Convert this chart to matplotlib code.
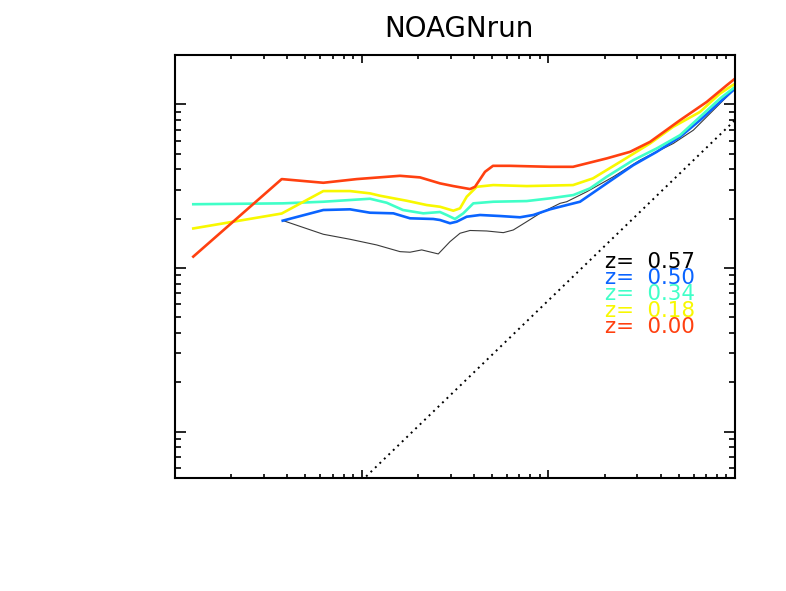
import matplotlib
matplotlib.use("Agg")
import matplotlib.pyplot as plt
from matplotlib.ticker import LogLocator, NullFormatter

# ---- data (log-log axes, arbitrary units) ----
labels = ["z=  0.57", "z=  0.50", "z=  0.34", "z=  0.18", "z=  0.00"]
colors = ["#000000", "#0A64FF", "#40FFC8", "#F8F800", "#FF4010"]

x_057 = [3.804, 6.231, 8.66, 12.04, 16.05, 18.16, 20.97, 25.73, 29.73, 33.64, 38.05,
         46.76, 57.41, 64.91, 76.58, 90.22, 115.5, 125.4, 160.5, 222.8, 309.7, 467.1,
         597.9, 765.1, 1000]
y_057 = [19.43, 16.05, 14.96, 13.81, 12.57, 12.47, 12.88, 12.17, 14.47, 16.28, 16.93,
         16.81, 16.42, 17.05, 19.16, 21.55, 24.80, 25.37, 29.19, 36.03, 45.56, 57.59,
         69.40, 91.92, 124.6]

x_050 = [3.776, 6.231, 8.66, 11.08, 14.78, 18.16, 24.19, 26.28, 29.73, 32.29, 36.53,
         43.05, 55.10, 70.50, 83.07, 102.1, 115.5, 147.8, 205.4, 285.2, 380.6, 507.4,
         649.2, 831.0, 1000]
y_050 = [19.43, 22.58, 22.80, 21.74, 21.55, 20.09, 19.90, 19.62, 18.74, 19.16, 20.55,
         21.05, 20.75, 20.38, 21.05, 22.80, 23.64, 25.37, 32.85, 42.46, 51.19, 63.18,
         79.88, 103.3, 124.6]

x_034 = [1.253, 3.789, 6.231, 11.08, 13.62, 16.65, 21.39, 26.28, 28.55, 31.62, 35.03,
         39.63, 50.72, 76.58, 102.1, 136.1, 167.2, 205.4, 285.2, 380.6, 507.4, 649.2,
         831.0, 1000]
y_034 = [24.49, 24.80, 25.37, 26.46, 25.01, 22.58, 21.55, 21.95, 21.05, 19.90, 21.55,
         24.80, 25.37, 25.61, 26.61, 27.87, 30.62, 36.03, 45.56, 53.70, 64.71, 83.68,
         108.3, 127.5]

x_018 = [1.253, 3.729, 6.231, 8.66, 11.08, 12.54, 17.43, 22.30, 26.28, 30.97, 33.64,
         36.53, 41.33, 50.72, 76.58, 135.6, 173.5, 251.2, 350.5, 465.4, 649.2, 831.0, 1000]
y_018 = [17.42, 21.49, 29.48, 29.48, 28.54, 27.60, 25.72, 24.22, 23.64, 22.36, 23.12,
         27.22, 31.31, 32.07, 31.62, 32.07, 35.24, 45.56, 57.59, 72.70, 89.75, 116.2, 133.7]

x_000 = [1.253, 3.729, 6.231, 9.41, 16.05, 20.54, 26.28, 30.97, 38.05, 40.48, 45.79,
         50.53, 62.31, 102.1, 135.6, 205.4, 273.8, 350.5, 507.4, 705.2, 902.8, 1000]
y_000 = [11.72, 34.89, 33.13, 34.89, 36.54, 35.73, 32.85, 31.62, 30.32, 31.31, 38.66,
         42.05, 42.05, 41.47, 41.47, 46.67, 51.19, 58.90, 79.88, 103.3, 130.6, 143.4]

ref_x = [10.0, 1000.0]
ref_y = [0.50, 80.0]

title = "NOAGNrun"

# ---- figure ----
W, H = 786, 591
fig = plt.figure(figsize=(W / 100, H / 100), dpi=100)
ax = fig.add_axes([175 / W, 1 - 478 / H, (735 - 175) / W, (478 - 55) / H])
ax.set_xscale("log")
ax.set_yscale("log")
ax.set_xlim(1, 1000)
ax.set_ylim(0.52, 200)

ax.plot(ref_x, ref_y, linestyle=(0, (1, 2.2)), color="black", lw=1.4)

series = [(x_057, y_057), (x_050, y_050), (x_034, y_034), (x_018, y_018), (x_000, y_000)]
widths = [0.8, 1.9, 1.9, 1.9, 1.9]
for (xs, ys), c, lw in zip(series, colors, widths):
    col = "#3a3a3a" if c == "#000000" else c
    ax.plot(xs, ys, color=col, lw=lw, solid_joinstyle="round")

for sp in ax.spines.values():
    sp.set_linewidth(1.5)

for axis in (ax.xaxis, ax.yaxis):
    axis.set_major_locator(LogLocator(base=10, numticks=20))
    axis.set_minor_locator(LogLocator(base=10, subs=range(2, 10), numticks=20))
    axis.set_major_formatter(NullFormatter())
    axis.set_minor_formatter(NullFormatter())

ax.tick_params(which="both", direction="in", top=True, right=True,
               labelbottom=False, labelleft=False, width=1.2)
ax.tick_params(axis="x", which="major", length=6.0)
ax.tick_params(axis="x", which="minor", length=2.8)
ax.tick_params(axis="y", which="major", length=7.9)
ax.tick_params(axis="y", which="minor", length=4.1)

y0 = (478 - 268.3) / 423
dy = 16.1 / 423
for i, (lab, c) in enumerate(zip(labels, colors)):
    ax.text(0.768, y0 - i * dy, lab, color=c, transform=ax.transAxes,
            fontsize=15.4, family="DejaVu Sans", ha="left", va="baseline")

fig.text(459 / W, 1 - 36.7 / H, title, ha="center", va="baseline",
         fontsize=20, family="DejaVu Sans")

fig.savefig("out.png", dpi=100)
